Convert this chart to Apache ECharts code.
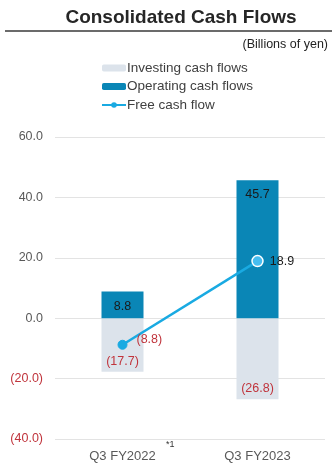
<!DOCTYPE html>
<html><head><meta charset="utf-8">
<script src="https://cdn.jsdelivr.net/npm/echarts@6/dist/echarts.min.js"></script>
<style>html,body{margin:0;padding:0;background:#fff}#c{width:332px;height:467px}</style>
</head><body><div id="c"></div>
<script>
const categories = ['Q3 FY2022', 'Q3 FY2023'];
const investing = [-17.7, -26.8];
const operating = [8.8, 45.7];
const freeCash = [-8.8, 18.9];
const yTicks = [-40, -20, 0, 20, 40, 60];

const RED = '#c0343c';
const fmt = v => v < 0 ? '(' + Math.abs(v).toFixed(1) + ')' : v.toFixed(1);
const chart = echarts.init(document.getElementById('c'));
chart.setOption({
  animation: false,
  textStyle: { fontFamily: 'Liberation Sans, Arial, sans-serif' },
  title: {
    text: 'Consolidated Cash Flows', left: 176, textAlign: 'center', top: 3,
    textStyle: { fontSize: 19, fontWeight: 'bold', color: '#262626' }
  },
  graphic: [
    { type: 'line', shape: { x1: 5, y1: 31, x2: 332, y2: 31 }, style: { stroke: '#3a3a3a', lineWidth: 1.5 } },
    { type: 'text', right: 4, top: 38, style: { text: '(Billions of yen)', fontSize: 12.5, fill: '#222', fontFamily: 'Liberation Sans, Arial, sans-serif' } },
    { type: 'text', left: 166, top: 440, style: { text: '*1', fontSize: 9, fill: '#333', fontFamily: 'Liberation Sans, Arial, sans-serif' } }
  ],
  legend: {
    orient: 'vertical', left: 96, top: 56, itemWidth: 24, itemHeight: 7, itemGap: 4.5,
    textStyle: { fontSize: 13.5, color: '#404040', padding: [0, 0, 0, -4] },
    data: ['Investing cash flows', 'Operating cash flows', 'Free cash flow']
  },
  grid: { left: 55, right: 7, top: 137, bottom: 28 },
  xAxis: {
    type: 'category', data: categories,
    axisLine: { show: false }, axisTick: { show: false },
    axisLabel: { fontSize: 13, color: '#595959', margin: 11 }
  },
  yAxis: {
    type: 'value', min: -40, max: 60, interval: 20,
    axisLine: { show: false }, axisTick: { show: false },
    splitLine: { lineStyle: { color: '#e3e3e3', width: 1 } },
    axisLabel: {
      fontSize: 12.5, margin: 12,
      formatter: v => yTicks.includes(v) ? fmt(v) : '',
      color: v => (parseFloat(v) < 0 ? RED : '#595959')
    }
  },
  series: [
    {
      name: 'Investing cash flows', type: 'bar', data: investing, barWidth: 42, barGap: '-100%',
      itemStyle: { color: '#dce3eb' },
      label: { show: true, position: 'insideBottom', distance: 4, color: RED, fontSize: 12.5, formatter: p => fmt(p.value) }
    },
    {
      name: 'Operating cash flows', type: 'bar', data: operating, barWidth: 42,
      itemStyle: { color: '#0a86b6' },
      label: { show: true, position: 'insideTop', distance: 8, color: '#1a1a1a', fontSize: 12.5, formatter: p => fmt(p.value) }
    },
    {
      name: 'Free cash flow', type: 'line', z: 5,
      data: [
        { value: freeCash[0], symbolSize: 9, itemStyle: { color: '#19aae2', borderColor: '#19aae2' },
          label: { color: RED, offset: [0, -5], distance: 9 } },
        { value: freeCash[1], symbolSize: 11, itemStyle: { color: '#47bdf0', borderColor: '#ffffff', borderWidth: 1.5 },
          label: { color: '#1a1a1a' } }
      ],
      symbol: 'circle',
      lineStyle: { color: '#19aae2', width: 2.5 },
      itemStyle: { color: '#19aae2' },
      label: { show: true, position: 'right', distance: 6, fontSize: 12.5, formatter: p => fmt(p.value) }
    }
  ]
});
</script></body></html>
